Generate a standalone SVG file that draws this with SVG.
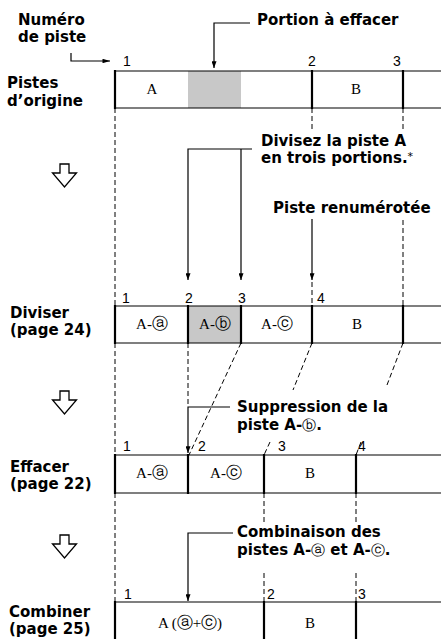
<svg xmlns="http://www.w3.org/2000/svg" width="441" height="639" viewBox="0 0 441 639">
<style>
.lbl{font-family:"DejaVu Sans",sans-serif;font-weight:bold;font-size:15px;fill:#000}
.ast{font-weight:normal;font-size:11px}
.num{font-family:"Liberation Sans",Arial,sans-serif;font-size:14px;fill:#000}
.cell{font-family:"Liberation Serif","Times New Roman",serif;font-size:15px;text-anchor:middle;fill:#000}
.circ{font-family:"DejaVu Sans",sans-serif;font-size:16px;font-weight:normal}
.lcirc{font-family:"DejaVu Sans",sans-serif;font-size:14px;font-weight:normal}
.bg{fill:#fff}
.gray{fill:#c8c8c8}
.hl{stroke:#000;stroke-width:1.2}
.dv{stroke:#000;stroke-width:2.2}
.dash{stroke:#000;stroke-width:1;stroke-dasharray:5 3;fill:none}
.lead{stroke:#000;stroke-width:1.2;fill:none}
.hollow{fill:#fff;stroke:#000;stroke-width:1.3;stroke-linejoin:miter}
</style>
<defs>
<marker id="ah" viewBox="0 0 8 6" refX="8" refY="3" markerWidth="7" markerHeight="5" markerUnits="userSpaceOnUse" orient="auto">
<path d="M0,0 L8,3 L0,6 z" fill="#000"/>
</marker>
<marker id="ahl" viewBox="0 0 10 6" refX="10" refY="3" markerWidth="9" markerHeight="4.5" markerUnits="userSpaceOnUse" orient="auto">
<path d="M0,0 L10,3 L0,6 z" fill="#000"/>
</marker>
</defs>

<g id="connectors">
<line class="dash" x1="115" y1="108" x2="115" y2="306"/>
<line class="dash" x1="115" y1="343" x2="115" y2="455"/>
<line class="dash" x1="115" y1="493" x2="115" y2="602"/>
<line class="dash" x1="312" y1="108" x2="312" y2="130"/>
<line class="dash" x1="403" y1="108" x2="403" y2="132"/>
<line class="dash" x1="403" y1="220" x2="403" y2="306"/>
<line class="dash" x1="312" y1="282" x2="312" y2="306"/>
<line class="dash" x1="188" y1="343" x2="188" y2="407"/>
<line class="dash" x1="241" y1="343" x2="189" y2="455"/>
<line class="dash" x1="312" y1="343" x2="293" y2="390"/>
<line class="dash" x1="270" y1="442" x2="264" y2="455"/>
<line class="dash" x1="403" y1="343" x2="387" y2="385"/>
<line class="dash" x1="361" y1="442" x2="356" y2="455"/>
<line class="dash" x1="264" y1="493" x2="264" y2="522"/>
<line class="dash" x1="264" y1="573" x2="264" y2="602"/>
<line class="dash" x1="356" y1="493" x2="356" y2="522"/>
<line class="dash" x1="356" y1="573" x2="356" y2="602"/>
<path class="lead" d="M71,53 V61 H110" marker-end="url(#ahl)"/>
<path class="lead" d="M250,23 H214 V68" marker-end="url(#ah)"/>
<path class="lead" d="M252,149 H188 V280" marker-end="url(#ah)"/>
<path class="lead" d="M241,149 V280" marker-end="url(#ah)"/>
<path class="lead" d="M312,219 V280" marker-end="url(#ah)"/>
<path class="lead" d="M230,407 H188 V453" marker-end="url(#ah)"/>
<path class="lead" d="M233,533 H188 V601" marker-end="url(#ah)"/>
</g>

<g id="label-numero">
<text class="lbl" x="18" y="25">Numéro</text>
<text class="lbl" x="18" y="42">de piste</text>
</g>
<g id="label-portion">
<text class="lbl" x="257" y="25">Portion à effacer</text>
</g>
<g id="label-divisez">
<text class="lbl" x="261" y="146">Divisez la piste A</text>
<text class="lbl" x="261" y="163">en trois portions.<tspan class="ast" dy="-3">*</tspan></text>
</g>
<g id="label-renum">
<text class="lbl" x="273" y="213">Piste renumérotée</text>
</g>
<g id="label-suppression">
<text class="lbl" x="237" y="412">Suppression de la</text>
<text class="lbl" x="237" y="430">piste A-<tspan class="lcirc">ⓑ</tspan>.</text>
</g>
<g id="label-combinaison">
<text class="lbl" x="237" y="537">Combinaison des</text>
<text class="lbl" x="237" y="555">pistes A-<tspan class="lcirc">ⓐ</tspan> et A-<tspan class="lcirc">ⓒ</tspan>.</text>
</g>

<g id="arrow1"><polygon class="hollow" points="60,164 69,164 69,173 76.5,173 64.5,187 52.5,173 60,173"/></g>
<g id="arrow2"><polygon class="hollow" points="60,391 69,391 69,400 76.5,400 64.5,414 52.5,400 60,400"/></g>
<g id="arrow3"><polygon class="hollow" points="60,535 69,535 69,544 76.5,544 64.5,558 52.5,544 60,544"/></g>

<g id="row-origine">
<text class="lbl" x="7" y="88">Pistes</text>
<text class="lbl" x="7" y="106">d’origine</text>
<rect class="bg" x="115" y="71" width="326" height="37"/>
<rect class="gray" x="188" y="71" width="53" height="37"/>
<line class="hl" x1="115" y1="71" x2="441" y2="71"/>
<line class="hl" x1="115" y1="108" x2="441" y2="108"/>
<line class="dv" x1="115" y1="70" x2="115" y2="109"/>
<line class="dv" x1="312" y1="70" x2="312" y2="109"/>
<line class="dv" x1="403" y1="70" x2="403" y2="109"/>
<text class="num" x="123" y="66">1</text>
<text class="num" x="308" y="66">2</text>
<text class="num" x="393" y="66">3</text>
<text class="cell" x="152" y="94">A</text>
<text class="cell" x="356" y="94">B</text>
</g>

<g id="row-diviser">
<text class="lbl" x="10" y="318">Diviser</text>
<text class="lbl" x="10" y="335">(page 24)</text>
<rect class="bg" x="115" y="306" width="326" height="37"/>
<rect class="gray" x="188" y="306" width="53" height="37"/>
<line class="hl" x1="115" y1="306" x2="441" y2="306"/>
<line class="hl" x1="115" y1="343" x2="441" y2="343"/>
<line class="dv" x1="115" y1="305" x2="115" y2="344"/>
<line class="dv" x1="188" y1="305" x2="188" y2="344"/>
<line class="dv" x1="241" y1="305" x2="241" y2="344"/>
<line class="dv" x1="312" y1="305" x2="312" y2="344"/>
<line class="dv" x1="403" y1="305" x2="403" y2="344"/>
<text class="num" x="122" y="303">1</text>
<text class="num" x="185" y="303">2</text>
<text class="num" x="238" y="303">3</text>
<text class="num" x="317" y="303">4</text>
<text class="cell" x="152" y="329">A-<tspan class="circ">ⓐ</tspan></text>
<text class="cell" x="215" y="329">A-<tspan class="circ">ⓑ</tspan></text>
<text class="cell" x="277" y="329">A-<tspan class="circ">ⓒ</tspan></text>
<text class="cell" x="357" y="329">B</text>
</g>

<g id="row-effacer">
<text class="lbl" x="10" y="472">Effacer</text>
<text class="lbl" x="10" y="489">(page 22)</text>
<rect class="bg" x="115" y="455" width="326" height="38"/>
<line class="hl" x1="115" y1="455" x2="441" y2="455"/>
<line class="hl" x1="115" y1="493" x2="441" y2="493"/>
<line class="dv" x1="115" y1="454" x2="115" y2="494"/>
<line class="dv" x1="188" y1="454" x2="188" y2="494"/>
<line class="dv" x1="264" y1="454" x2="264" y2="494"/>
<line class="dv" x1="356" y1="454" x2="356" y2="494"/>
<text class="num" x="123" y="451">1</text>
<text class="num" x="198" y="451">2</text>
<text class="num" x="278" y="451">3</text>
<text class="num" x="358" y="451">4</text>
<text class="cell" x="152" y="478">A-<tspan class="circ">ⓐ</tspan></text>
<text class="cell" x="226" y="478">A-<tspan class="circ">ⓒ</tspan></text>
<text class="cell" x="310" y="478">B</text>
</g>

<g id="row-combiner">
<text class="lbl" x="9" y="617">Combiner</text>
<text class="lbl" x="9" y="634">(page 25)</text>
<rect class="bg" x="115" y="602" width="326" height="45"/>
<line class="hl" x1="115" y1="602" x2="441" y2="602"/>
<line class="dv" x1="115" y1="601" x2="115" y2="645"/>
<line class="dv" x1="264" y1="601" x2="264" y2="645"/>
<line class="dv" x1="356" y1="601" x2="356" y2="645"/>
<text class="num" x="124" y="599">1</text>
<text class="num" x="267" y="599">2</text>
<text class="num" x="358" y="599">3</text>
<text class="cell" x="190" y="628">A (<tspan class="circ">ⓐ</tspan>+<tspan class="circ">ⓒ</tspan>)</text>
<text class="cell" x="310" y="628">B</text>
</g>
</svg>
